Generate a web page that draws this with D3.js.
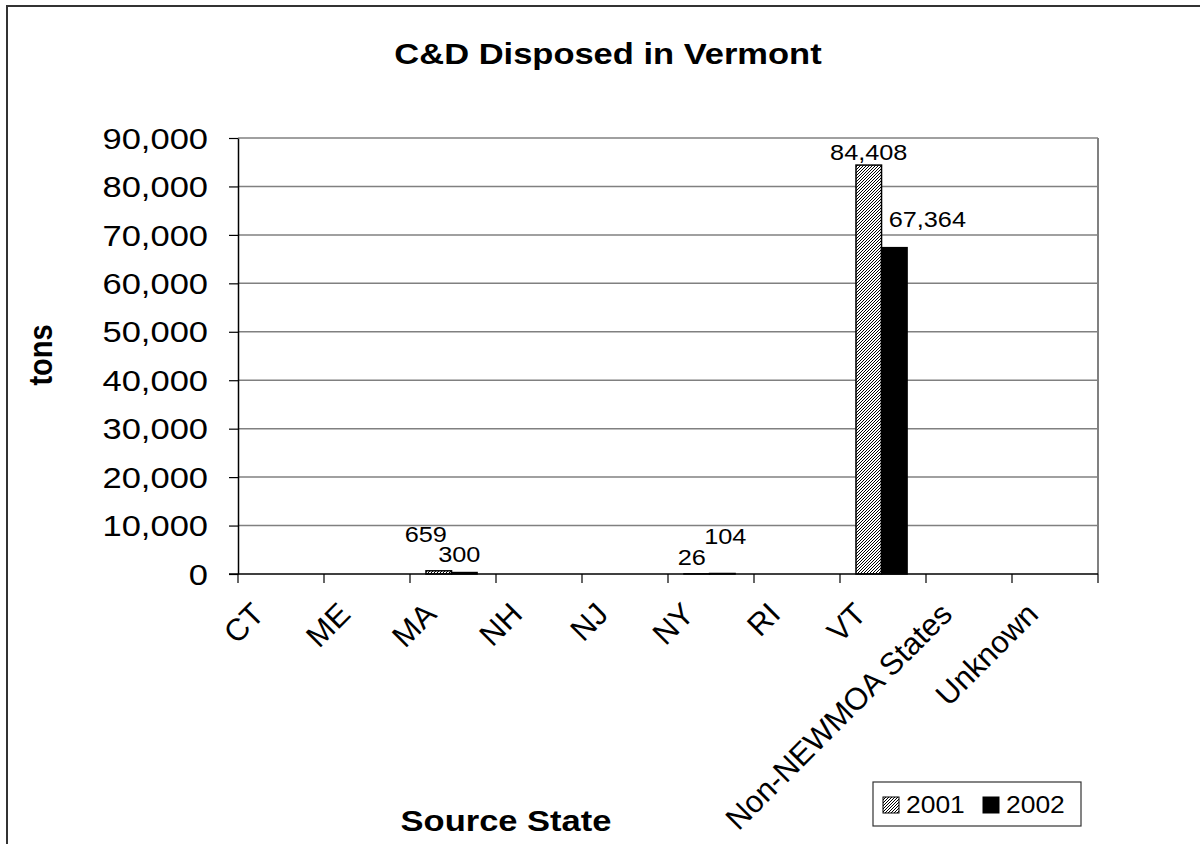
<!DOCTYPE html>
<html>
<head>
<meta charset="utf-8">
<script src="https://cdn.jsdelivr.net/npm/d3@7"></script>
<style>
  body { margin: 0; background: #fff; }
  text { font-family: "Liberation Sans", Arial, sans-serif; fill: #000; }
</style>
</head>
<body>
<div id="chart"></div>
<script>
// data
const states = ["CT", "ME", "MA", "NH", "NJ", "NY", "RI", "VT", "Non-NEWMOA States", "Unknown"];
const years = ["2001", "2002"];
const tons2001 = [0, 0, 659, 0, 0, 26, 0, 84408, 0, 0];
const tons2002 = [0, 0, 300, 0, 0, 104, 0, 67364, 0, 0];
const yTicks = [0, 10000, 20000, 30000, 40000, 50000, 60000, 70000, 80000, 90000];

// the original chart is stretched sideways, so its flat text is too
const SX = 1.15;

let width = 1200, height = 844;
let margin = {left: 238, right: 102, top: 138, bottom: 270};

let svg = d3.select("#chart").append("svg")
  .attr("width", width)
  .attr("height", height);

// hatch for 2001
let defs = svg.append("defs");
let pat = defs.append("pattern")
  .attr("id", "hatch")
  .attr("patternUnits", "userSpaceOnUse")
  .attr("width", 3).attr("height", 3);
pat.append("rect").attr("width", 3).attr("height", 3).attr("fill", "#fff");
pat.append("path").attr("d", "M-1,1 l2,-2 M0,3 l3,-3 M2,4 l2,-2")
  .attr("stroke", "#000").attr("stroke-width", 1);

// outer chart frame (runs off the right and bottom)
svg.append("rect")
  .attr("x", 7).attr("y", 6)
  .attr("width", 1220).attr("height", 900)
  .attr("fill", "none").attr("stroke", "#333").attr("stroke-width", 2);

let x = d3.scaleBand()
  .domain(states)
  .range([margin.left, width - margin.right]);

let xInner = d3.scaleBand()
  .domain(years)
  .range([x.bandwidth() * 0.186, x.bandwidth() * 0.78]);

let y = d3.scaleLinear()
  .domain([0, 90000])
  .range([574, margin.top]);

function txt(g, px, py, str, size, opts) {
  opts = opts || {};
  let sx = opts.noStretch ? 1 : SX;
  return g.append("text")
    .attr("transform", "translate(" + px + "," + py + ") scale(" + sx + ",1)" + (opts.rot ? " rotate(" + opts.rot + ")" : ""))
    .attr("text-anchor", opts.anchor || "middle")
    .attr("font-size", size)
    .attr("font-weight", opts.bold ? "bold" : null)
    .attr("dy", opts.dy || null)
    .text(str);
}

// gridlines
svg.append("g")
  .selectAll("line")
  .data(yTicks.filter(d => d > 0))
  .enter().append("line")
  .attr("x1", margin.left).attr("x2", width - margin.right)
  .attr("y1", d => y(d)).attr("y2", d => y(d))
  .attr("stroke", "#808080").attr("stroke-width", 1.5);

// plot area right edge
svg.append("line")
  .attr("x1", width - margin.right).attr("x2", width - margin.right)
  .attr("y1", y(90000)).attr("y2", y(0))
  .attr("stroke", "#808080").attr("stroke-width", 2);

// y axis
let yAxis = svg.append("g")
  .attr("transform", "translate(" + margin.left + ",0)")
  .call(d3.axisLeft(y).tickValues(yTicks).tickFormat(d3.format(",")).tickSize(9).tickSizeOuter(0));
yAxis.select(".domain").attr("stroke", "#000").attr("stroke-width", 1.5);
yAxis.selectAll(".tick line").attr("stroke", "#000").attr("stroke-width", 1.2);
yAxis.selectAll(".tick text")
  .attr("font-size", 30)
  .attr("font-family", "Liberation Sans, Arial, sans-serif")
  .attr("x", null).attr("dy", "0.34em")
  .attr("transform", "translate(-30,0) scale(" + SX + ",1)");

// bars
let data = states.map((s, i) => ({state: s, values: [tons2001[i], tons2002[i]]}));
let groups = svg.append("g")
  .selectAll("g")
  .data(data)
  .enter().append("g")
  .attr("transform", d => "translate(" + x(d.state) + ",0)");

groups.selectAll("rect")
  .data(d => d.values.map((v, j) => ({year: years[j], v: v})).filter(e => e.v > 0))
  .enter().append("rect")
  .attr("x", e => xInner(e.year))
  .attr("width", xInner.bandwidth())
  .attr("y", e => y(e.v))
  .attr("height", e => y(0) - y(e.v))
  .attr("fill", e => e.year === "2001" ? "url(#hatch)" : "#000")
  .attr("stroke", "#000").attr("stroke-width", 1.5);

// x axis
let xAxis = svg.append("g")
  .attr("transform", "translate(0," + y(0) + ")");
xAxis.append("line")
  .attr("x1", margin.left - 9).attr("x2", width - margin.right)
  .attr("stroke", "#000").attr("stroke-width", 1.5);
xAxis.selectAll(".tk")
  .data(states.map(s => x(s)).concat([width - margin.right]))
  .enter().append("line")
  .attr("class", "tk")
  .attr("x1", d => d).attr("x2", d => d)
  .attr("y1", 0).attr("y2", 9)
  .attr("stroke", "#000").attr("stroke-width", 1.2);

states.forEach(s => {
  txt(svg, x(s) + x.bandwidth() / 2 - 15, 616, s, 31, {anchor: "end", rot: -45, noStretch: true});
});

// value labels, nudged the way they sit in the original
const labelNudge2001 = {MA: [-13, -37], NY: [-5, -17], VT: [0, -13]};
const labelNudge2002 = {MA: [-5, -18], NY: [3, -37], VT: [33, -28]};
let lab = svg.append("g");
data.forEach(d => {
  d.values.forEach((v, j) => {
    if (v <= 0) return;
    let nudge = (j === 0 ? labelNudge2001 : labelNudge2002)[d.state] || [0, -15];
    let cx = x(d.state) + xInner(years[j]) + xInner.bandwidth() / 2 + nudge[0];
    let cy = y(v) + nudge[1];
    txt(lab, cx, cy, d3.format(",")(v), 22, {dy: "0.35em"});
  });
});

// titles
txt(svg, 608, 64, "C&D Disposed in Vermont", 30, {bold: true});
txt(svg, 506, 831, "Source State", 30, {bold: true});
txt(svg, 52, 355, "tons", 29, {bold: true, rot: -90});

// legend
let leg = svg.append("g");
leg.append("rect")
  .attr("x", 873).attr("y", 782).attr("width", 208).attr("height", 44)
  .attr("fill", "#fff").attr("stroke", "#333").attr("stroke-width", 1.2);
years.forEach((yr, j) => {
  let lx = 883 + j * 100;
  leg.append("rect")
    .attr("x", lx).attr("y", 797).attr("width", 16).attr("height", 16)
    .attr("fill", j === 0 ? "url(#hatch)" : "#000")
    .attr("stroke", "#000").attr("stroke-width", 1);
  txt(leg, lx + 23, 805, yr, 23, {anchor: "start", dy: "0.36em"});
});
</script>
</body>
</html>
